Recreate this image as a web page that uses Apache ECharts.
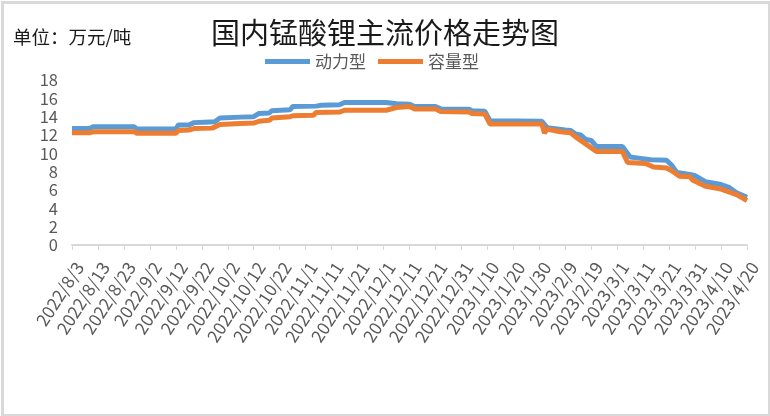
<!DOCTYPE html>
<html>
<head>
<meta charset="utf-8">
<script src="https://cdn.jsdelivr.net/npm/echarts@6/dist/echarts.min.js"></script>
<style>
html,body{margin:0;padding:0;background:#fff;}
#c{width:770px;height:416px;}
</style>
</head>
<body>
<div id="c"></div>
<script>
var startDate = '2022/8/3';
var endDate = '2023/4/20';
var seriesNames = ['动力型', '容量型'];
var yTicks = [0, 2, 4, 6, 8, 10, 12, 14, 16, 18];

var powerDates = ['2022/8/3','2022/8/10','2022/8/11','2022/8/27','2022/8/28','2022/9/12','2022/9/13','2022/9/17','2022/9/19','2022/9/23','2022/9/27','2022/9/29','2022/10/7','2022/10/12','2022/10/14','2022/10/18','2022/10/19','2022/10/26','2022/10/27','2022/11/5','2022/11/7','2022/11/14','2022/11/16','2022/12/2','2022/12/6','2022/12/11','2022/12/13','2022/12/21','2022/12/23','2023/1/3','2023/1/4','2023/1/9','2023/1/11','2023/1/31','2023/2/2','2023/2/9','2023/2/11','2023/2/13','2023/2/15','2023/2/17','2023/2/19','2023/2/21','2023/3/3','2023/3/6','2023/3/10','2023/3/14','2023/3/20','2023/3/22','2023/3/24','2023/3/29','2023/3/31','2023/4/4','2023/4/10','2023/4/13','2023/4/16','2023/4/20'];
var powerValues = [12.7,12.7,12.9,12.9,12.65,12.65,13.1,13.1,13.35,13.4,13.45,13.85,13.95,14.0,14.35,14.4,14.65,14.75,15.1,15.15,15.25,15.3,15.55,15.55,15.4,15.35,15.1,15.1,14.85,14.8,14.65,14.6,13.55,13.5,12.8,12.55,12.5,12.1,12.0,11.5,11.4,10.75,10.75,9.6,9.45,9.3,9.25,8.7,7.9,7.7,7.55,6.9,6.6,6.3,5.7,5.2];

var capDates = ['2022/8/3','2022/8/10','2022/8/11','2022/8/27','2022/8/28','2022/9/12','2022/9/13','2022/9/17','2022/9/19','2022/9/26','2022/9/29','2022/10/7','2022/10/12','2022/10/14','2022/10/18','2022/10/19','2022/10/26','2022/10/27','2022/11/4','2022/11/5','2022/11/14','2022/11/16','2022/12/2','2022/12/6','2022/12/11','2022/12/13','2022/12/21','2022/12/23','2023/1/3','2023/1/4','2023/1/9','2023/1/11','2023/1/31','2023/2/1','2023/2/2','2023/2/7','2023/2/11','2023/2/13','2023/2/16','2023/2/21','2023/3/3','2023/3/5','2023/3/12','2023/3/15','2023/3/20','2023/3/22','2023/3/25','2023/3/29','2023/3/30','2023/4/4','2023/4/10','2023/4/16','2023/4/20'];
var capValues = [12.25,12.25,12.35,12.35,12.2,12.2,12.5,12.55,12.7,12.75,13.15,13.25,13.3,13.5,13.6,13.85,14.0,14.1,14.15,14.45,14.5,14.7,14.7,15.0,15.1,14.85,14.85,14.55,14.5,14.35,14.3,13.2,13.2,12.2,12.65,12.35,12.25,11.8,11.2,10.2,10.2,9.0,8.9,8.5,8.4,8.1,7.5,7.45,7.1,6.4,6.1,5.5,4.85];

function toUTC(s){ var p = s.split('/'); return Date.UTC(+p[0], +p[1]-1, +p[2]); }
var DAY = 86400000;
var t0 = toUTC(startDate);
function dayIndex(s){ return Math.round((toUTC(s) - t0) / DAY); }
function dayLabel(d){ var dt = new Date(t0 + d*DAY); return dt.getUTCFullYear() + '/' + (dt.getUTCMonth()+1) + '/' + dt.getUTCDate(); }
function pairs(dates, vals){ return dates.map(function(d,i){ return [dayIndex(d), vals[i]]; }); }

var chart = echarts.init(document.getElementById('c'));
var txt = '#595959';
var font = '"Noto Sans CJK SC", "Noto Sans", sans-serif';
chart.setOption({
  animation: false,
  textStyle: { fontFamily: font },
  title: {
    text: '国内锰酸锂主流价格走势图',
    left: 'center', top: 13,
    textStyle: { fontSize: 29, fontWeight: 'normal', color: '#1a1a1a', fontFamily: font }
  },
  graphic: [
    { type: 'rect', left: 0, top: 0, z: 100, silent: true,
      shape: { x: 1, y: 1, width: 767, height: 413 },
      style: { fill: 'none', stroke: '#d9d9d9', lineWidth: 3 } },
    { type: 'text', left: 13, top: 28,
      style: { text: '单位：万元/吨', fontSize: 18.5, fill: '#1a1a1a', fontFamily: font } }
  ],
  legend: {
    data: seriesNames, top: 48, left: 260,
    icon: 'rect', itemWidth: 45, itemHeight: 5, itemGap: 12,
    textStyle: { fontSize: 17, color: txt, fontFamily: font }
  },
  grid: { left: 72, right: 23, top: 80, bottom: 171 },
  xAxis: {
    type: 'value', min: 0, max: dayIndex(endDate), interval: 10,
    axisLine: { show: true, lineStyle: { color: '#d9d9d9', width: 2 } },
    axisTick: { show: true, length: 5, lineStyle: { color: '#d9d9d9', width: 1 } },
    splitLine: { show: false },
    axisLabel: { rotate: 57, fontSize: 17.5, color: txt, margin: 14, verticalAlign: 'top',
      formatter: function(v){ return dayLabel(v); } }
  },
  yAxis: {
    type: 'value', min: yTicks[0], max: yTicks[yTicks.length-1], interval: 2,
    axisLine: { show: false }, axisTick: { show: false },
    splitLine: { show: false },
    axisLabel: { fontSize: 16.5, color: txt, margin: 14 }
  },
  series: [
    { name: seriesNames[0], type: 'line', data: pairs(powerDates, powerValues), showSymbol: false,
      lineStyle: { width: 5, color: '#5B9BD5' }, itemStyle: { color: '#5B9BD5' } },
    { name: seriesNames[1], type: 'line', data: pairs(capDates, capValues), showSymbol: false,
      lineStyle: { width: 5, color: '#ED7D31' }, itemStyle: { color: '#ED7D31' } }
  ]
});
</script>
</body>
</html>
